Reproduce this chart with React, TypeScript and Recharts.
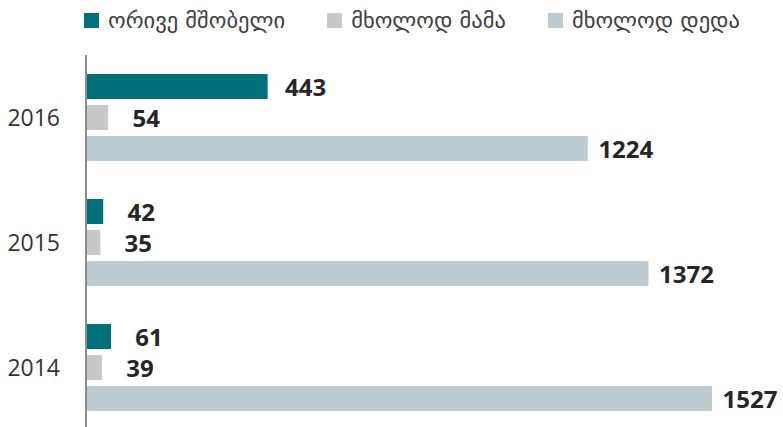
import React from "react";
import { BarChart, Bar, XAxis, YAxis, LabelList } from "recharts";

const years = ["2016", "2015", "2014"];
const bothParents = [443, 42, 61];
const fatherOnly = [54, 35, 39];
const motherOnly = [1224, 1372, 1527];

const seriesNames = ["ორივე მშობელი", "მხოლოდ მამა", "მხოლოდ დედა"];
const seriesKeys = ["both", "father", "mother"];
const seriesColors = ["#00707a", "#c8c8c9", "#bdccd3"];

const data = years.map((y, i) => ({
  year: y,
  both: bothParents[i],
  father: fatherOnly[i],
  mother: motherOnly[i],
}));

const ValueLabel = (props: any) => {
  const { x, y, width, height, value } = props;
  return (
    <text
      x={Number(x) + Number(width) + 38}
      y={Number(y) + Number(height) / 2}
      textAnchor="middle"
      dominantBaseline="central"
      fontFamily="'Open Sans', sans-serif"
      fontWeight={700}
      fontSize={24}
      fill="#262626"
    >
      {value}
    </text>
  );
};

const LegendBox = () => (
  <div
    style={{
      position: "absolute",
      left: 84,
      top: 7,
      display: "flex",
      alignItems: "center",
      gap: 42,
      fontFamily: "'DejaVu Sans', sans-serif",
      fontSize: 22.5,
      color: "#404040",
      whiteSpace: "nowrap",
    }}
  >
    {seriesNames.map((n, i) => (
      <div key={n} style={{ display: "flex", alignItems: "center" }}>
        <span
          style={{
            display: "inline-block",
            width: 15,
            height: 15,
            background: seriesColors[i],
            marginRight: 9,
          }}
        />
        <span>{n}</span>
      </div>
    ))}
  </div>
);

export default function App() {
  return (
    <div
      style={{
        position: "absolute",
        left: 0,
        top: 0,
        width: 783,
        height: 427,
        overflow: "hidden",
        background: "#fff",
      }}
    >
      <BarChart
        width={783}
        height={430}
        data={data}
        layout="vertical"
        margin={{ top: 55, right: 0, bottom: 0, left: 0 }}
        barSize={25}
        barGap={6}
      >
        <XAxis type="number" domain={[0, 1700]} hide />
        <YAxis
          type="category"
          dataKey="year"
          width={86}
          axisLine={{ stroke: "#8c8c8c", strokeWidth: 2 }}
          tickLine={false}
          tickSize={0}
          tickMargin={26}
          tick={{ fontFamily: "'Open Sans', sans-serif", fontSize: 23, fill: "#333333" }}
        />
        {seriesKeys.map((k, i) => (
          <Bar key={k} dataKey={k} name={seriesNames[i]} fill={seriesColors[i]} isAnimationActive={false}>
            <LabelList dataKey={k} content={ValueLabel} />
          </Bar>
        ))}
      </BarChart>
      <LegendBox />
    </div>
  );
}
